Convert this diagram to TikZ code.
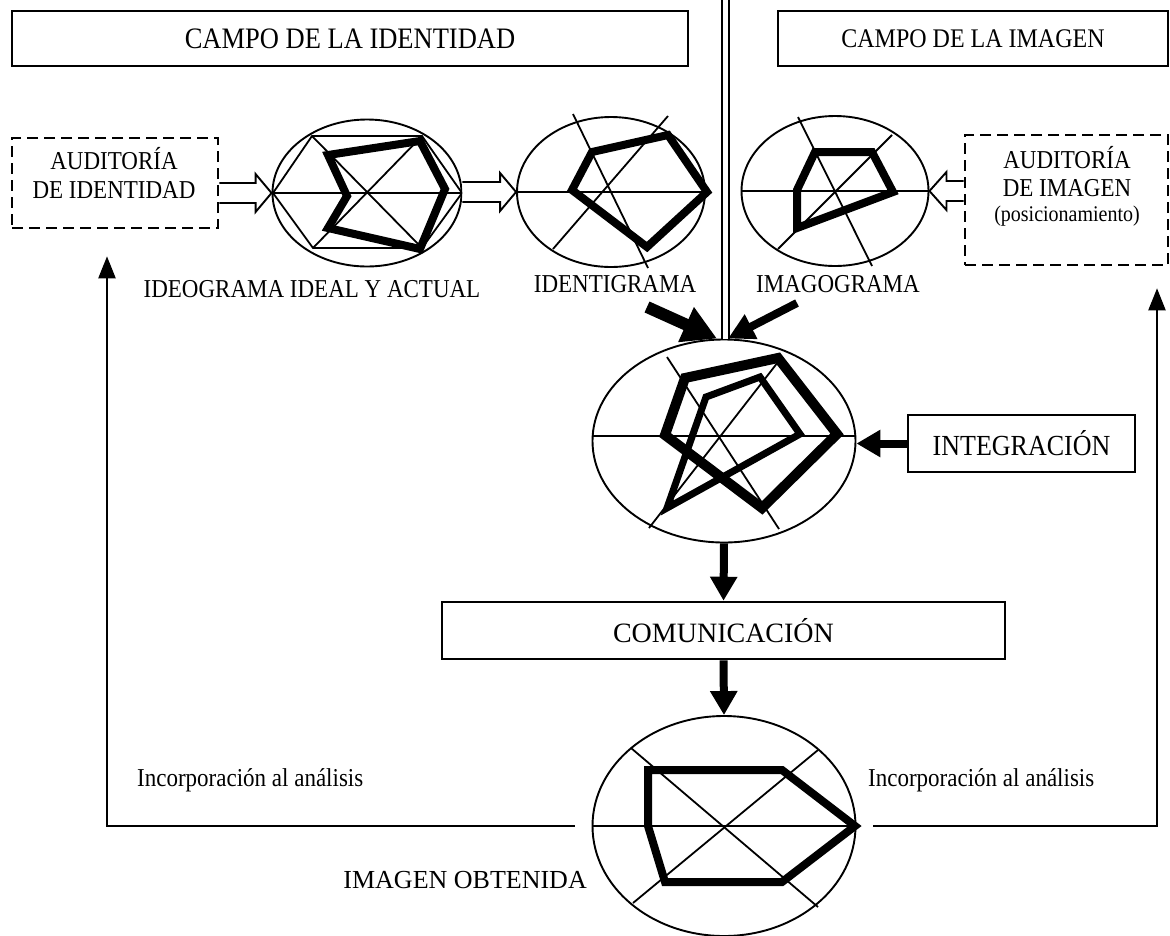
\documentclass[tikz,border=0pt]{standalone}
\usepackage{fontspec}
\setmainfont{Liberation Serif}
\usetikzlibrary{shapes.geometric,arrows.meta,calc}

% slightly tall lettering
\newcommand{\tall}[1]{\scalebox{1}[1.12]{#1}}

% open block arrow between two anchors (pointing right / pointing left)
\newcommand{\HollowArrowR}[2]{%
  \draw[hollow] let \p1=(#1), \p2=(#2) in
    (\x1,\y2+10pt) -- (\x2-16pt,\y2+10pt) -- (\x2-16pt,\y2+19pt) -- (\p2)
    -- (\x2-16pt,\y2-19pt) -- (\x2-16pt,\y2-10pt) -- (\x1,\y2-10pt);}
\newcommand{\HollowArrowL}[2]{%
  \draw[hollow] let \p1=(#1), \p2=(#2) in
    (\x1,\y2+10pt) -- (\x2+17pt,\y2+10pt) -- (\x2+17pt,\y2+19pt) -- (\p2)
    -- (\x2+17pt,\y2-19pt) -- (\x2+17pt,\y2-10pt) -- (\x1,\y2-10pt);}

\tikzset{
  thinln/.style={line width=1.8pt},
  fieldbox/.style={draw, line width=2.6pt, inner sep=0pt},
  dbox/.style={draw, line width=2.6pt, dash pattern=on 11pt off 6pt, inner sep=0pt},
  ell/.style={draw, ellipse, line width=1.9pt, inner sep=0pt},
  lbl/.style={font=\fontsize{23}{28}\selectfont, inner sep=0pt},
  small/.style={font=\fontsize{20}{24}\selectfont, inner sep=0pt},
  poly/.style={line width=8pt},
  hollow/.style={fill=white, line width=1.9pt},
  fat/.style={line width=8pt, -{Triangle[length=24pt,width=26pt]}},
  fb/.style={line width=2.2pt, -{Triangle[length=22pt,width=17pt]}},
  dbl/.style={line width=2.2pt, double distance=5pt},
}

\begin{document}
\begin{tikzpicture}[x=1pt,y=-1pt]
\useasboundingbox (0,0) rectangle (1170,935);

% field headers
\node[fieldbox, minimum width=676, minimum height=55, font=\fontsize{26.5}{30}\selectfont] (cid) at (350,38.5) {\tall{CAMPO DE LA IDENTIDAD}};
\node[fieldbox, minimum width=390, minimum height=55, font=\fontsize{24}{28}\selectfont] (cim) at (973,38.5) {\tall{CAMPO DE LA IMAGEN}};

% audits
\node[dbox, minimum width=206, minimum height=90] (aid) at (115,183) {};
\node[lbl, anchor=base] (aid1) at (114,169) {\tall{AUDITORÍA}};
\node[lbl, anchor=base] (aid2) at (114,198) {\tall{DE IDENTIDAD}};
\node[dbox, minimum width=203, minimum height=130] (aim) at (1066.5,200) {};
\node[lbl, anchor=base] (aim1) at (1067,168) {\tall{AUDITORÍA}};
\node[lbl, anchor=base] (aim2) at (1067,196) {\tall{DE IMAGEN}};
\node[small, anchor=base] (aim3) at (1067,221) {\tall{(posicionamiento)}};

% radar ellipses
\node[ell, minimum width=189, minimum height=147] (e1) at (367,193) {};
\node[ell, minimum width=188, minimum height=150] (e2) at (611,192) {};
\node[ell, minimum width=187, minimum height=150] (e3) at (835,191) {};
\node[ell, minimum width=263, minimum height=203] (ec) at (724,441) {};
\node[ell, minimum width=263, minimum height=220] (eb) at (724,826) {};

% labels
\node[lbl, anchor=base] (tideo) at (312,297) {\tall{IDEOGRAMA IDEAL Y ACTUAL}};
\node[lbl, anchor=base] (tiden) at (615,292) {\tall{IDENTIGRAMA}};
\node[lbl, anchor=base] (timag) at (838,292) {\tall{IMAGOGRAMA}};
\node[lbl, anchor=base west] (tinc1) at (137,786) {\tall{Incorporación al análisis}};
\node[lbl, anchor=base west] (tinc2) at (868,786) {\tall{Incorporación al análisis}};
\node[lbl, anchor=base east, font=\fontsize{26}{30}\selectfont] (tobt) at (587,888) {IMAGEN OBTENIDA};

% process boxes
\node[fieldbox, minimum width=227, minimum height=57, font=\fontsize{26}{30}\selectfont] (int) at (1021.5,443.5) {\tall{INTEGRACIÓN}};
\node[fieldbox, minimum width=563, minimum height=57, font=\fontsize{28}{32}\selectfont] (com) at (723.5,630.5) {COMUNICACIÓN};

% divider between the two fields
\coordinate (dtop) at (725.5,0);
\draw[dbl] (dtop) -- (dtop |- ec.north);

% ideograma: hexagon grid with ideal/actual profile
\begin{scope}[shift={(e1.center)}]
  \draw[thinln] (-94,0) -- (-55,-57) -- (55,-57) -- (95,0) -- (55,55) -- (-54,55) -- cycle;
  \draw[thinln] (-94,0) -- (95,0) (-55,-57) -- (55,55) (55,-57) -- (-54,55);
  \draw[poly] (-39,-38) -- (53,-52) -- (78,-4) -- (53,56) -- (-39,35) -- (-20,3) -- cycle;
\end{scope}

% identigrama
\begin{scope}[shift={(e2.center)}]
  \draw[thinln] (-94,0) -- (94,0) (-38,-78) -- (37,76) (57,-76) -- (-58,57);
  \draw[poly] (-19,-40) -- (57,-57) -- (96,0) -- (36,55) -- (-39,-2) -- cycle;
\end{scope}

% imagograma
\begin{scope}[shift={(e3.center)}]
  \draw[thinln] (-94,0) -- (94,0) (-37,-74) -- (37,75) (57,-56) -- (-57,58);
  \draw[poly] (-20,-39) -- (37,-39) -- (58,1) -- (-38,37) -- (-38,-1) -- cycle;
\end{scope}

% integration of both profiles
\begin{scope}[shift={(ec.center)}]
  \draw[thinln] (-131,-5) -- (131,-5) (-57,-84) -- (55,88) (-75,87) -- (54,-79);
  \draw[line width=10pt] (-39,-63) -- (54,-83) -- (113,-7) -- (38,67) -- (-59,-6) -- cycle;
  \draw[line width=7pt] (-18,-44) -- (36,-64) -- (76,-7) -- (-57,67) -- cycle;
\end{scope}

% resulting image
\begin{scope}[shift={(eb.center)}]
  \draw[thinln] (-131,0) -- (131,0) (-93,-78) -- (94,81) (94,-76) -- (-91,77);
  \draw[poly] (-76,-56) -- (58,-56) -- (131,0) -- (58,56) -- (-59,56) -- (-76,0) -- cycle;
\end{scope}

% block arrows feeding the profiles
\HollowArrowR{aid.east}{e1.west}
\HollowArrowR{e1.east}{e2.west}
\HollowArrowL{aim.west}{e3.east}

% convergence into integration
\coordinate (fid) at (647,307);
\coordinate (fim) at (797,303);
\draw[line width=12pt, -{Triangle[length=34pt,width=36pt]}] (fid) -- ([xshift=-7pt]ec.north);
\draw[line width=8pt, -{Triangle[length=26pt,width=26pt]}] (fim) -- ([xshift=4pt]ec.north);
\draw[fat] (int.west) -- (int.west -| ec.east);
\draw[fat] (ec.south) -- (com.north);
\draw[fat] (com.south) -- (eb.north);

% feedback into the audits
\draw[fb] ([xshift=-17pt]eb.west) -| ([xshift=-8pt,yshift=-27pt]aid.south);
\draw[fb] ([xshift=17pt]eb.east) -| ([xshift=90.5pt,yshift=-22pt]aim.south);
\end{tikzpicture}
\end{document}
